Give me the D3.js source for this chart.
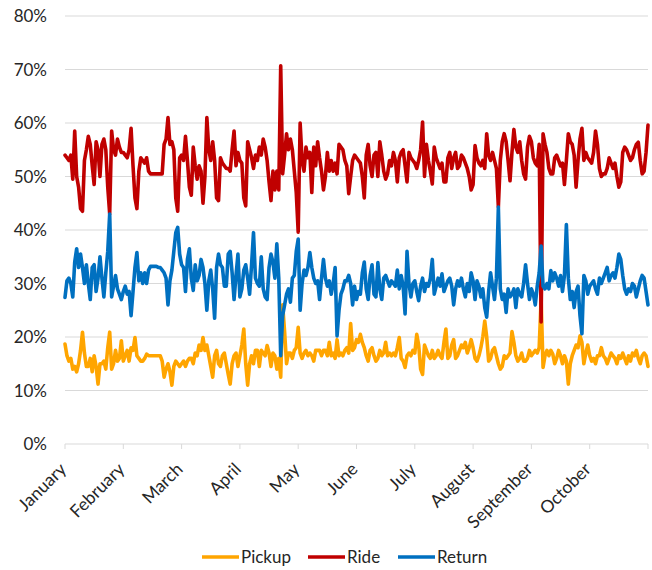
<!DOCTYPE html>
<html>
<head>
<meta charset="utf-8">
<script src="https://cdn.jsdelivr.net/npm/d3@7"></script>
<style>
  html, body { margin: 0; padding: 0; background: #fff; }
  svg { display: block; font-family: Lato, "Open Sans", sans-serif; }
</style>
</head>
<body>
<svg id="chart" width="652" height="570"></svg>
<script>
const months = ["January","February","March","April","May","June","July","August","September","October"];
const daysPerTick = 30;
const yTicks = [0, 0.1, 0.2, 0.3, 0.4, 0.5, 0.6, 0.7, 0.8];
const seriesNames = ["Pickup", "Ride", "Return"];
const seriesColors = ["#FFA500", "#C00000", "#0070C0"];

const pickup = [
18.7,16.5,15.5,16,14,14.5,13.5,15,17.5,20.9,
17,14.5,14.5,16,13.5,16.5,14.5,11.2,15,15,
15.5,14,18,20.9,14,15,17.5,15.5,16,19.3,
15.5,16.5,17.5,15.5,18,17.5,19.9,16.5,16,15.5,
15.5,16,16.8,16.5,16.5,16.5,16.5,16.5,
16.5,16.5,15.5,
12.5,14,15,13.5,11,14.5,15.5,15,14.5,
15,15.5,14.5,15.5,16,16,15,17,16.5,18.5,
17.5,19.9,17.5,18.5,16.5,14.5,12.5,16.5,17.5,15,
14.5,16.5,17,15,13,11.2,15,16.5,17,14.5,
16.5,18.5,21.5,15,11,15,16.5,15,17.5,17.5,
14.5,17.5,17,16.5,18.4,17,14.5,17,16.5,14,
16,12.5,26,21,15,17,17,16,17.5,18,
21.8,17,16,17,17.5,16.5,17,16.5,15.5,17.5,
17.5,17.5,16.5,17.5,17.5,16.5,19,16.5,17,16,
19.5,16.5,17,16.5,17.5,18,17,22.5,17.5,18,
19.5,19,20.5,19,18,16.5,15.5,17.5,18,16.5,
15.5,16,17.5,16.5,17,19,16.5,17,16.5,17,
16.5,18,19.9,16,15.5,14.3,16.5,17,16.5,17.5,
17,20.5,18.5,14,13,18.5,17.5,16.5,16,17.5,
16,16.5,17.5,16.5,16,19,21.5,16,16.5,18.5,
19.5,16,16.5,17.5,18.5,18,19,17,18,19.5,
18,16,15.5,16.5,18,20,23,20,15.5,16,
17.5,18,16.5,15,14,14.5,16.5,16,16.5,17,
21,19,16.5,15.5,16,17,15.5,15.5,16,17.5,
16.5,17,17.5,17,18,27,14.3,16.5,17.5,16.5,
17.5,16.8,15,16,17.5,16.5,15,16.5,15.5,11.2,
15,16.5,17.5,18.5,18,20.2,19,15,17,18.5,
16.5,15.5,16,15,16.5,16.5,18,16.5,16,15,
16,17,16.5,16,15,16.5,16,17,16,15,
16.5,15.5,17,16.5,17.5,16,15,16.5,17,16.5,14.5
];

const ride = [
54,53.5,53,54,49.5,58.5,50,48,44,43.5,
53,55,57.5,56,52,48.5,56.5,55,50,56,
57,55,48,43,58.5,55,54,57,55.5,54.5,
54.5,54,53.5,55,59,52,46,44,51,53.5,
53,52.5,53.5,51,50.5,50.5,50.5,50.5,
50.5,50.5,50.5,
56,57,61,56,56.5,55,46,43.5,53.5,
54,53,57.5,53,48,46.5,55.5,52,49.5,52,
51,45,50,61,55,53,56.5,53,46,45.5,
53.5,52.5,52,51.5,51.5,51,55,58.5,52,54.5,
53,52.5,46,44.5,56.5,55,53.5,51.5,54,53,
55.5,54,57,55.5,53,49,45.5,51,47.5,51,
47.5,70.7,50.5,54,58,55,57,55,51,47,
39.6,60,53,51,55.5,53.5,54.5,47,55.5,52,
56.5,53.5,51,47.5,50,54.5,51,53,51,52.5,
50.5,56,55.5,55,53,52,46.8,50,53,54,
53.5,53,52.5,50,46,54,56,52,50,54,
54.5,50,56.5,54,51,49.5,50.5,53,52,54.5,
53,49,53.5,54.5,55,52,49,54.5,53.5,53,
52.5,51.5,53,55,60.2,50,56,53,51,48.6,
55.5,53.5,52.5,51.5,52.5,49,49,53.5,54.5,51.5,
53.5,54.5,51.5,52,54,53.5,52.5,51.5,50,47.5,
48.5,55.8,53.5,52.5,52,53,51.5,58,54,53,
54.5,53,51.5,44.3,53,56.5,58,56.5,53,49.2,
54.5,58.8,55.5,54.5,56.5,53,50.5,49.5,55.5,57.5,
56.5,53.5,52.5,52,56,22.8,58,56,54.5,51.5,
50.5,50.5,53.5,54,53,52,52.5,48.5,53,58,
56.5,56,54,48,53,57,59,53,54.5,53.5,
53,52.5,54.5,58.5,56,51.5,50,50.5,50.5,51.5,
53.5,52.5,51.5,52.5,50,48,49,54.5,55.5,55,
54,53,53.5,55,56,56.4,53,50.5,51,54.5,59.6
];

const returns = [
27.4,30.5,31,30,27.5,34,36.5,33,35.5,33,
30,33.5,30,27,33,33.5,28.5,31,35,31,
27.5,32,36,43,27.5,29.5,31.5,29,28,27,
28.5,29.5,28,28.5,24,28.5,33,35.8,30.5,32,
30,32,30,32.5,33.2,33.2,33.2,33.2,
33,33,32.5,
32,31,26,30.5,32.5,36,39.5,40.5,35.5,
33.5,33,28.5,34.5,36.5,31,28.7,33.5,30.5,31.5,
34.5,33,30,25,30.5,32.5,29,23.5,33,35.5,
33.5,33,29.5,29.5,35.5,36,32,27,31.5,35.5,
27.5,29,32.5,33.5,31,28,33.5,39.5,31,30,
29.5,35,29,27.5,27,33,35.5,34,31,37.4,
31,16.5,24,26,28,29,26.5,31,31.5,36,
38.3,25,30,32.5,31.5,33,35.8,33,31,30,
30.5,27,31,34.5,31,29.5,30.5,28,30,33,
20.2,25,28,29,30.5,30.5,31.5,30,26,29.5,
27,28.5,28,32,34,29,27,31.5,33.5,28,
27.5,33.9,29,27,31,31.5,30.5,29.5,30.5,30,
29.5,32.5,29,31.5,29.5,24.3,36,30,27.5,30,
30.5,28.5,26.8,29.5,31,28.5,30,29.5,31,34.5,
28,29.5,31,29.5,31.8,28.5,29.5,30.5,31,29.5,
26,29,30.5,29.5,31,29,27.5,30,28.5,32,
30.5,27,30.5,29.5,27.5,29,25.5,23.7,28.5,32,
29.5,27,31,44.3,29,27,28,24.6,29,27.5,
28,29,25.5,29,28,27.5,30,33.5,30,27,
29,28,26,29.5,32,37,29.5,29,30,29,
32.4,30.5,32,31,29.5,31.5,28.5,31.5,41,31,
27,28.5,25.5,28.5,29.5,24,20.6,31.5,30.5,28,
29.5,30,30.5,29,28,31,30,31,32,33,
30.5,31.5,32,31,33,35.5,34.5,31.5,29,28,
29,28.5,30,29.5,27.5,29,30.5,31.5,31,28.5,26
];

(function () {
const series = [pickup, ride, returns];
const n = ride.length;

const svg = d3.select("#chart");
const mLeft = 65, mRight = 648, mTop = 16, mBottom = 444;
const textColor = "#262626";

const x = d3.scaleLinear().domain([0, n - 1]).range([mLeft, mRight]);
const y = d3.scaleLinear().domain([0, 0.8]).range([mBottom, mTop]);

// gridlines
svg.append("g").selectAll("line").data(yTicks).join("line")
  .attr("x1", mLeft).attr("x2", mRight)
  .attr("y1", d => y(d)).attr("y2", d => y(d))
  .attr("stroke", "#d9d9d9").attr("stroke-width", 1);

// y labels
svg.append("g").selectAll("text").data(yTicks).join("text")
  .attr("x", 47).attr("y", d => y(d)).attr("dy", "0.36em")
  .attr("text-anchor", "end").attr("font-size", 17).attr("fill", textColor)
  .text(d => d3.format(".0%")(d));

// x tick marks
const tickIdx = d3.range(0, n, daysPerTick);
svg.append("g").selectAll("line").data(tickIdx).join("line")
  .attr("x1", d => x(d)).attr("x2", d => x(d))
  .attr("y1", mBottom).attr("y2", mBottom + 5)
  .attr("stroke", "#d9d9d9").attr("stroke-width", 1);

// x labels
svg.append("g").selectAll("text").data(months).join("text")
  .attr("transform", (d, i) => `translate(${x(i * daysPerTick) - 2},${mBottom + 22}) rotate(-45)`)
  .attr("text-anchor", "end").attr("dy", "0.35em")
  .attr("font-size", 17.5).attr("fill", textColor)
  .text(d => d);

// lines
const line = d3.line().x((d, i) => x(i)).y(d => y(d / 100));
svg.append("g").selectAll("path").data(series).join("path")
  .attr("d", d => line(d))
  .attr("fill", "none")
  .attr("stroke", (d, i) => seriesColors[i])
  .attr("stroke-width", 3.6)
  .attr("stroke-linejoin", "round")
  .attr("stroke-linecap", "round");

// legend
const legendX = [202, 308, 398];
const lg = svg.append("g").selectAll("g").data(seriesNames).join("g")
  .attr("transform", (d, i) => `translate(${legendX[i]},557)`);
lg.append("line").attr("x1", 0).attr("x2", 37).attr("y1", 0).attr("y2", 0)
  .attr("stroke", (d, i) => seriesColors[i]).attr("stroke-width", 3.6);
lg.append("text").attr("x", 39).attr("y", 0).attr("dy", "0.36em")
  .attr("font-size", 17).attr("fill", textColor).text(d => d);
})();
</script>
</body>
</html>
